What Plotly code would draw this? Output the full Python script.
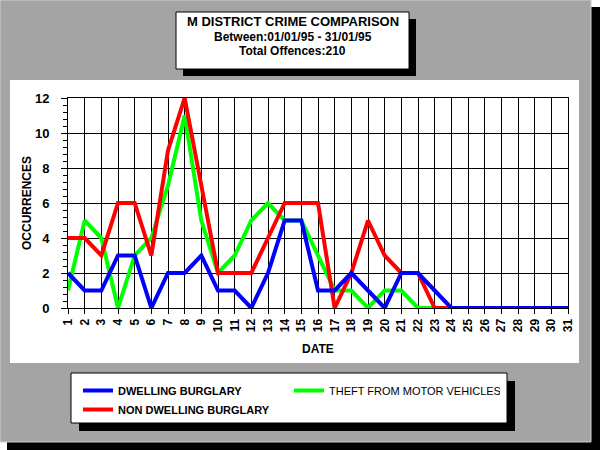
import plotly.graph_objects as go

# ---- data ----
days = [1, 2, 3, 4, 5, 6, 7, 8, 9, 10, 11, 12, 13, 14, 15, 16,
        17, 18, 19, 20, 21, 22, 23, 24, 25, 26, 27, 28, 29, 30, 31]
dwelling = [2, 1, 1, 3, 3, 0, 2, 2, 3, 1, 1, 0, 2, 5, 5, 1,
            1, 2, 1, 0, 2, 2, 1, 0, 0, 0, 0, 0, 0, 0, 0]
non_dwelling = [4, 4, 3, 6, 6, 3, 9, 12, 7, 2, 2, 2, 4, 6, 6, 6,
                0, 2, 5, 3, 2, 2, 0, 0, 0, 0, 0, 0, 0, 0, 0]
theft_mv = [1, 5, 4, 0, 3, 4, 7, 11, 5, 2, 3, 5, 6, 5, 5, 3,
            1, 1, 0, 1, 1, 0, 0, 0, 0, 0, 0, 0, 0, 0, 0]
tick_labels = [str(d) for d in days]
y_ticks = [0, 2, 4, 6, 8, 10, 12]

title_lines = ["M DISTRICT CRIME COMPARISON",
               "Between:01/01/95 - 31/01/95",
               "Total Offences:210"]

# ---- geometry helpers (pixel -> paper) ----
W, H = 600, 450
ML, MR, MT, MB = 68, 32, 98, 142
PW, PH = W - ML - MR, H - MT - MB


def px(x):
    return (x - ML) / PW


def py(y):
    return (H - MB - y) / PH


FONT = "Liberation Sans, Arial, sans-serif"

fig = go.Figure()
fig.add_trace(go.Scatter(x=days, y=theft_mv, mode="lines", name="THEFT FROM MOTOR VEHICLES",
                         line=dict(color="#00ff00", width=4), legendrank=2))
fig.add_trace(go.Scatter(x=days, y=non_dwelling, mode="lines", name="<b>NON DWELLING BURGLARY</b>",
                         line=dict(color="#ff0000", width=4), legendrank=3))
fig.add_trace(go.Scatter(x=days, y=dwelling, mode="lines", name="<b>DWELLING BURGLARY</b>",
                         line=dict(color="#0000ff", width=4), legendrank=1))


def rect(x0, y0, x1, y1, fill, line_color=None, lw=0):
    return dict(type="rect", xref="paper", yref="paper", layer="below",
                x0=px(x0), x1=px(x1), y0=py(y0), y1=py(y1),
                fillcolor=fill, line=dict(color=line_color or fill, width=lw))


shapes = [
    rect(7, 7, 600, 450, "#000000"),
    rect(0, 0, 591, 442, "#a4a4a4", "#d0d0d0", 1),
    rect(10, 80, 579, 363, "#ffffff"),
    rect(183, 19, 416, 76, "#000000"),
    rect(176, 12, 409, 69, "#ffffff", "#000000", 1),
    rect(79, 381, 515, 431, "#000000"),
    rect(71, 373, 507, 423, "#ffffff", "#000000", 1),
]

annotations = []
for i, (txt, yy, sz) in enumerate(zip(title_lines, [22, 37, 51], [13, 12, 12])):
    annotations.append(dict(text="<b>" + txt + "</b>", xref="paper", yref="paper", x=px(292.5), y=py(yy),
                            xanchor="center", yanchor="middle", showarrow=False,
                            font=dict(family=FONT, size=sz, color="black")))
annotations.append(dict(text="<b>DATE</b>", xref="paper", yref="paper", x=px(318), y=py(349),
                        xanchor="center", yanchor="middle", showarrow=False,
                        font=dict(family=FONT, size=12, color="black")))
annotations.append(dict(text="<b>OCCURRENCES</b>", xref="paper", yref="paper", x=px(27), y=py(203),
                        xanchor="center", yanchor="middle", showarrow=False, textangle=-90,
                        font=dict(family=FONT, size=12, color="black")))

fig.update_layout(
    width=W, height=H,
    margin=dict(l=ML, r=MR, t=MT, b=MB, pad=0, autoexpand=False),
    paper_bgcolor="#ffffff",
    plot_bgcolor="rgba(0,0,0,0)",
    shapes=shapes,
    annotations=annotations,
    showlegend=True,
    legend=dict(orientation="h", x=px(78), y=py(376), xanchor="left", yanchor="top",
                bgcolor="rgba(0,0,0,0)", borderwidth=0, entrywidth=166,
                font=dict(family=FONT, size=11, color="black"),
                traceorder="normal"),
    xaxis=dict(range=[1, 31], tickmode="array", tickvals=days, ticktext=tick_labels,
               tickangle=-90, showgrid=True, gridcolor="black", gridwidth=1,
               showline=True, mirror=True, linecolor="black", linewidth=1,
               ticks="outside", ticklen=5, tickcolor="black", zeroline=False,
               tickfont=dict(family=FONT, size=12, color="black", weight="bold")),
    yaxis=dict(range=[0, 12], tickmode="array", tickvals=y_ticks,
               showgrid=True, gridcolor="black", gridwidth=1,
               showline=True, mirror=True, linecolor="black", linewidth=1,
               ticks="outside", ticklen=6, tickcolor="black", zeroline=False,
               ticklabelstandoff=9,
               minor=dict(dtick=0.4, tick0=0, ticks="outside", ticklen=4,
                          tickcolor="black", showgrid=False),
               tickfont=dict(family=FONT, size=13, color="black", weight="bold")),
)

fig.write_html("out.html")
